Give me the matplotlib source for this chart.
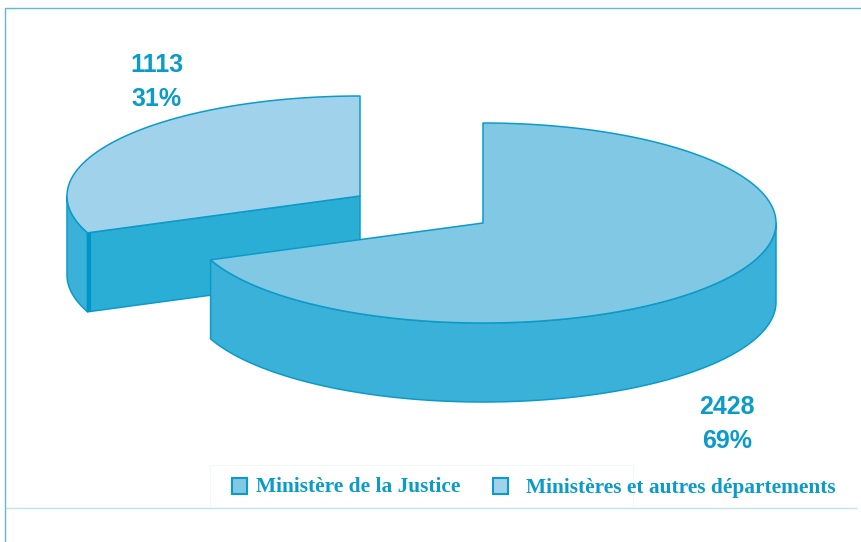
"""Exploded pseudo-3D pie: Ministere de la Justice vs other departments."""

import numpy as np
import matplotlib
matplotlib.use("Agg")
import matplotlib.pyplot as plt
from matplotlib.patches import Polygon, Rectangle

counts = [2428, 1113]
percents = [69, 31]
series_names = ["Ministère de la Justice", "Ministères et autres départements"]

EDGE = "#0C9BC9"
TEXT = "#0A9BC9"
FRAME = "#5FB8D8"
TOP_BIG = "#80C8E3"
SIDE_BIG = "#3AB1D8"
TOP_SMALL = "#A0D3EB"
SIDE_SMALL = "#2AAED6"
FRONT_STRIP = "#0095C8"

RX, RY, DEPTH = 293, 100, 79


def arc(cx, cy, a0, a1, n=200):
    # angles in degrees, y axis points down so sin goes the other way
    t = np.radians(np.linspace(a0, a1, n))
    return np.column_stack([cx + RX * np.cos(t), cy - RY * np.sin(t)])


def add_poly(ax, pts, face, lw=1.1, z=1):
    ax.add_patch(Polygon(pts, closed=True, facecolor=face, edgecolor=EDGE,
                         linewidth=lw, joinstyle="round", zorder=z))


def main():
    fig = plt.figure(figsize=(8.62, 5.42), dpi=100)
    ax = fig.add_axes([0, 0, 1, 1])
    ax.set_xlim(0, 862)
    ax.set_ylim(542, 0)
    ax.axis("off")

    sweep = [360 * p / sum(percents) for p in percents]

    # frame
    ax.plot([862, 5.5, 5.5], [7.5, 7.5, 542], color=FRAME, lw=1.0, zorder=0)
    ax.plot([6, 856], [507.5, 507.5], color="#C4E2EA", lw=1.0, zorder=0)
    ax.add_patch(Rectangle((210, 465), 423, 42, facecolor="white",
                           edgecolor="#F0F8FA", lw=0.8, zorder=0))

    # small slice, centre shifted left
    cx, cy = 360, 196
    end = 90 + sweep[1]
    edge_pt = arc(cx, cy, end, end, 1)[0]
    outer = arc(cx, cy, 180, end, 60)
    add_poly(ax, np.vstack([outer, outer[::-1] + [0, DEPTH]]), SIDE_BIG, z=1)
    add_poly(ax, [edge_pt, (cx, cy), (cx, cy + DEPTH), edge_pt + [0, DEPTH]],
             SIDE_SMALL, z=2)
    ax.plot([edge_pt[0] + 1, edge_pt[0] + 1], [edge_pt[1], edge_pt[1] + DEPTH],
            color=FRONT_STRIP, lw=3, solid_capstyle="butt", zorder=3)
    add_poly(ax, np.vstack([[(cx, cy)], arc(cx, cy, 90, end)]), TOP_SMALL, z=4)

    # big slice
    cx, cy = 483, 223
    start = 90 - sweep[0]
    outer = arc(cx, cy, start, 0, 200)
    add_poly(ax, np.vstack([outer, outer[::-1] + [0, DEPTH]]), SIDE_BIG, z=5)
    add_poly(ax, np.vstack([[(cx, cy)], arc(cx, cy, start, 90, 300)]), TOP_BIG, z=6)

    # value labels
    for x, y, n, p in [(727, 407, counts[0], percents[0]),
                       (157, 65, counts[1], percents[1])]:
        for yy, s in [(y, str(n)), (y + 34, f"{p}%")]:
            ax.text(x, yy, s, color=TEXT, fontsize=18, fontweight="bold",
                    family="Liberation Sans", ha="center", va="center", zorder=7)

    # legend
    for x, face, tx, name in [(232, TOP_BIG, 256, series_names[0]),
                              (493, TOP_SMALL, 526, series_names[1])]:
        ax.add_patch(Rectangle((x, 478), 15, 16, facecolor=face, edgecolor=EDGE,
                               lw=1.5, zorder=7))
        ax.text(tx, 487.5, name, color=TEXT, fontsize=15.4, fontweight="bold",
                family="Liberation Serif", ha="left", va="center", zorder=7)

    fig.savefig("out.png", dpi=100)
    plt.close(fig)


if __name__ == "__main__":
    main()
